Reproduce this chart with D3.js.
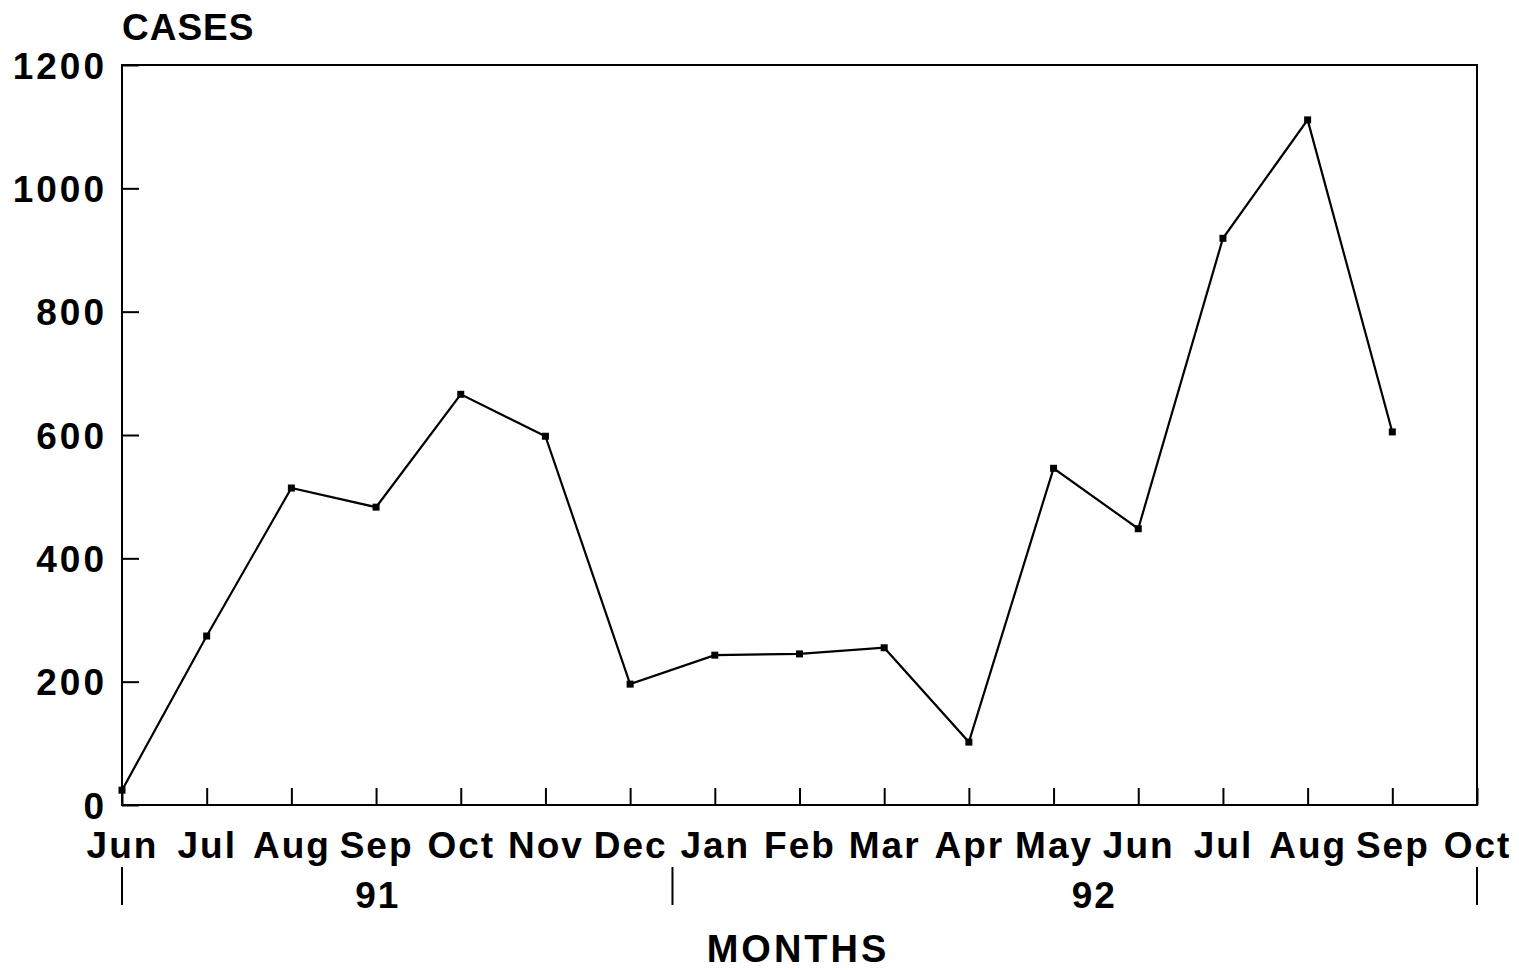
<!DOCTYPE html>
<html>
<head>
<meta charset="utf-8">
<script src="https://cdn.jsdelivr.net/npm/d3@7"></script>
<style>
  body { margin: 0; background: #fff; }
  text { font-family: "Liberation Sans", Arial, sans-serif; font-weight: bold; fill: #000; }
</style>
</head>
<body>
<div id="chart"></div>
<script>
// Data
var months = ["Jun", "Jul", "Aug", "Sep", "Oct", "Nov", "Dec", "Jan", "Feb", "Mar", "Apr", "May", "Jun", "Jul", "Aug", "Sep", "Oct"];
var cases = [24, 274, 514, 483, 666, 598, 196, 243, 245, 255, 102, 546, 448, 919, 1111, 605];
var yTicks = [0, 200, 400, 600, 800, 1000, 1200];
var years = ["91", "92"];
var yearPos = [3.02, 11.48];
var yearBreaks = [0, 6.5, 16];

var svgWidth = 1519;
var svgHeight = 970;

var margin = { top: 65, right: 42, bottom: 165, left: 122 };
var width = svgWidth - margin.left - margin.right;
var height = svgHeight - margin.top - margin.bottom;

var svg = d3.select("#chart")
    .append("svg")
    .attr("width", svgWidth)
    .attr("height", svgHeight);

var chartGroup = svg.append("g")
    .attr("transform", `translate(${margin.left}, ${margin.top})`);

// Scales
var xScale = d3.scaleLinear()
    .domain([0, months.length - 1])
    .range([0, width]);

var yScale = d3.scaleLinear()
    .domain([0, 1200])
    .range([height, 0]);

// Axes (ticks point inward)
var bottomAxis = d3.axisBottom(xScale)
    .tickValues(d3.range(months.length))
    .tickFormat(i => months[i])
    .tickSizeInner(-17)
    .tickSizeOuter(0)
    .tickPadding(27);

var leftAxis = d3.axisLeft(yScale)
    .tickValues(yTicks)
    .tickFormat(d3.format("d"))
    .tickSizeInner(-17)
    .tickSizeOuter(0)
    .tickPadding(15);

var xAxisG = chartGroup.append("g")
    .attr("transform", `translate(0, ${height})`)
    .call(bottomAxis);

var yAxisG = chartGroup.append("g")
    .call(leftAxis);

[xAxisG, yAxisG].forEach(function(g) {
    g.select(".domain").remove();
    g.selectAll("line").attr("stroke", "#000").attr("stroke-width", 2);
    g.selectAll("text")
        .style("font-size", "37px")
        .style("letter-spacing", "2px")
        .attr("fill", "#000");
});
yAxisG.selectAll("text").style("letter-spacing", "3px").attr("dy", "0.36em");

// Frame
chartGroup.append("rect")
    .attr("x", 0)
    .attr("y", 0)
    .attr("width", width)
    .attr("height", height)
    .attr("fill", "none")
    .attr("stroke", "#000")
    .attr("stroke-width", 2);

// Line
var line = d3.line()
    .x((d, i) => xScale(i))
    .y(d => yScale(d));

chartGroup.append("path")
    .datum(cases)
    .attr("d", line)
    .attr("fill", "none")
    .attr("stroke", "#000")
    .attr("stroke-width", 2.2);

// Markers
chartGroup.selectAll(".marker")
    .data(cases)
    .enter()
    .append("rect")
    .attr("class", "marker")
    .attr("x", (d, i) => xScale(i) - 3.5)
    .attr("y", d => yScale(d) - 3.5)
    .attr("width", 7)
    .attr("height", 7)
    .attr("fill", "#000");

// Year separators and labels
chartGroup.selectAll(".yearBreak")
    .data(yearBreaks)
    .enter()
    .append("line")
    .attr("class", "yearBreak")
    .attr("x1", d => xScale(d))
    .attr("x2", d => xScale(d))
    .attr("y1", height + 62)
    .attr("y2", height + 100)
    .attr("stroke", "#000")
    .attr("stroke-width", 2);

chartGroup.selectAll(".yearLabel")
    .data(years)
    .enter()
    .append("text")
    .attr("class", "yearLabel")
    .attr("x", (d, i) => xScale(yearPos[i]))
    .attr("y", height + 103)
    .style("text-anchor", "middle")
    .style("font-size", "37px")
    .style("letter-spacing", "2px")
    .text(d => d);

// Axis titles
svg.append("text")
    .attr("x", 122)
    .attr("y", 40)
    .style("font-size", "37px")
    .style("letter-spacing", "1px")
    .text("CASES");

svg.append("text")
    .attr("x", 798)
    .attr("y", 962)
    .style("text-anchor", "middle")
    .style("font-size", "38px")
    .style("letter-spacing", "3px")
    .text("MONTHS");
</script>
</body>
</html>
